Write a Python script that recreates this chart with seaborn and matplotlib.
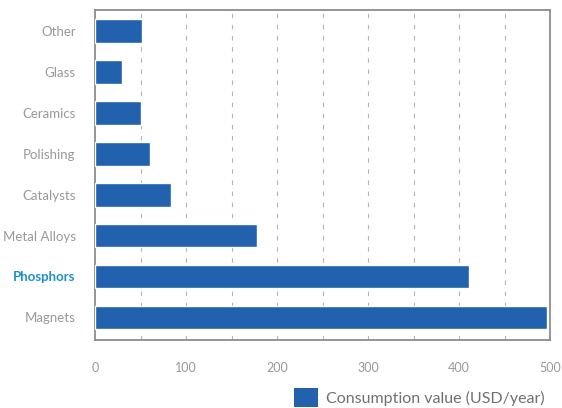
import matplotlib
matplotlib.use("Agg")
import matplotlib.pyplot as plt
from matplotlib.patches import Patch
import seaborn as sns
import pandas as pd

# Data
categories = ["Other", "Glass", "Ceramics", "Polishing", "Catalysts",
              "Metal Alloys", "Phosphors", "Magnets"]
values = [52, 30, 51, 60, 83, 178, 411, 496]
x_ticks = [0, 100, 200, 300, 400, 500]
legend_label = "Consumption value (USD/year)"

bar_color = "#2161ae"
grey = "#8c8c8c"

sns.set_style("white")
plt.rcParams["font.family"] = ["Lato", "DejaVu Sans"]

df = pd.DataFrame({"category": categories, "value": values})

fig = plt.figure(figsize=(5.62, 4.08), dpi=100)
ax = fig.add_axes([0.169, 0.167, 0.810, 0.809])

sns.barplot(data=df, x="value", y="category", orient="h", color=bar_color,
            width=0.58, saturation=1, ax=ax, zorder=3)

ax.set_xlim(0, 500)
ax.set_ylim(7.55, -0.52)
ax.set_xticks(x_ticks)
ax.set_xlabel("")
ax.set_ylabel("")

# dashed vertical grid every 50
for gx in range(50, 500, 50):
    ax.axvline(gx, color="#b3b3b3", lw=0.8, ls=(0, (4, 6)), zorder=1)

for s in ax.spines.values():
    s.set_color(grey)
    s.set_linewidth(1.3)
    s.set_visible(True)

ax.tick_params(axis="x", length=0, pad=16, labelsize=9, labelcolor="#999999")
ax.tick_params(axis="y", length=0, pad=14, labelsize=9.5, labelcolor="#999999")

for lbl in ax.get_yticklabels():
    if lbl.get_text() == "Phosphors":
        lbl.set_color("#1b8fd0")
        lbl.set_fontweight("bold")

handle = Patch(facecolor=bar_color, edgecolor="none")
fig.legend([handle], [legend_label], loc="center right",
           bbox_to_anchor=(0.995, 0.026), frameon=False, fontsize=11.5,
           labelcolor="#707070", handlelength=1.5, handleheight=1.5,
           handletextpad=0.5)

fig.savefig("out.png", dpi=100)
